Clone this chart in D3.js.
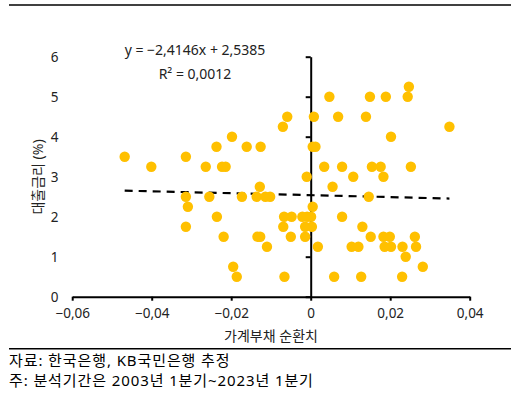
<!DOCTYPE html>
<html>
<head>
<meta charset="utf-8">
<script src="https://cdn.jsdelivr.net/npm/d3@7"></script>
<style>
body { margin: 0; background: #fff; }
text { font-family: "Noto Sans", "Noto Sans CJK KR", sans-serif; }
</style>
</head>
<body>
<div id="chart"></div>
<script>
// household debt gap (x) vs loan rate (y), one pair per quarter
var debtGap = [
  0.0247,
  0.0047, 0.0149, 0.0189, 0.0244,
  -0.0059, 0.0008, 0.0069, 0.0139,
  -0.0070, 0.0349,
  -0.0198, 0.0202,
  -0.0237, -0.0161, -0.0126, 0.0005, 0.0012,
  -0.0468, -0.0314,
  -0.0401, -0.0264, -0.0223, -0.0214, 0.0034, 0.0079, 0.0154, 0.0176, 0.0252,
  -0.0010, 0.0107, 0.0183,
  -0.0128, 0.0055,
  -0.0314, -0.0255, -0.0173, -0.0136, -0.0114, -0.0102, 0.0146,
  -0.0309, 0.0005,
  -0.0236, -0.0067, -0.0048, -0.0021, -0.0009, 0.0001, 0.0079,
  -0.0314, -0.0069, -0.0014, 0.0003, 0.0130,
  -0.0219, -0.0134, -0.0127, -0.0050, -0.0014, 0.0151, 0.0183, 0.0199, 0.0262,
  -0.0110, 0.0018, 0.0103, 0.0120, 0.0186, 0.0202, 0.0231, 0.0265,
  0.0239,
  -0.0195, 0.0282,
  -0.0186, -0.0066, 0.0059, 0.0127, 0.0230
];
var loanRate = [
  5.25,
  5, 5, 5, 5,
  4.5, 4.5, 4.5, 4.5,
  4.25, 4.25,
  4, 4,
  3.75, 3.75, 3.75, 3.75, 3.75,
  3.5, 3.5,
  3.25, 3.25, 3.25, 3.25, 3.25, 3.25, 3.25, 3.25, 3.25,
  3, 3, 3,
  2.75, 2.75,
  2.5, 2.5, 2.5, 2.5, 2.5, 2.5, 2.5,
  2.25, 2.25,
  2, 2, 2, 2, 2, 2, 2,
  1.75, 1.75, 1.75, 1.75, 1.75,
  1.5, 1.5, 1.5, 1.5, 1.5, 1.5, 1.5, 1.5, 1.5,
  1.25, 1.25, 1.25, 1.25, 1.25, 1.25, 1.25, 1.25,
  1,
  0.75, 0.75,
  0.5, 0.5, 0.5, 0.5, 0.5
];
var xTicks = [-0.06, -0.04, -0.02, 0, 0.02, 0.04];
var yTicks = [0, 1, 2, 3, 4, 5, 6];
var trendSlope = -2.4146, trendIntercept = 2.5385;
var trendRange = [-0.0468, 0.0349];
var eqText = "y = −2,4146x + 2,5385";
var r2Text = "R² = 0,0012";
var xTitle = "가계부채 순환치";
var yTitle = "대출금리 (%)";
var notes = ["자료: 한국은행, KB국민은행 추정", "주: 분석기간은 2003년 1분기~2023년 1분기"];

var width = 514, height = 403;
var svg = d3.select("#chart").append("svg").attr("width", width).attr("height", height);

var scaleX = d3.scaleLinear().domain([-0.06, 0.04]).range([72.2, 469.7]);
var scaleY = d3.scaleLinear().domain([0, 6]).range([296.7, 56.7]);

var locale = d3.formatLocale({decimal: ",", thousands: ".", grouping: [3], currency: ["", ""], minus: "−"});
var fmt = locale.format(".2f");

// frame lines
svg.append("line").attr("x1", 9).attr("x2", 511).attr("y1", 5).attr("y2", 5)
   .attr("stroke", "#000").attr("stroke-width", 1.5);
svg.append("line").attr("x1", 9).attr("x2", 511).attr("y1", 348.7).attr("y2", 348.7)
   .attr("stroke", "#000").attr("stroke-width", 1.5);

// x axis at y = 0
var xAxis = svg.append("g")
  .attr("transform", "translate(0," + scaleY(0) + ")")
  .call(d3.axisBottom(scaleX).tickValues(xTicks).tickSize(4).tickSizeOuter(0).tickPadding(8)
        .tickFormat(function(d) { return d === 0 ? "0" : fmt(d); }));
xAxis.selectAll("text").attr("font-size", 13.5).attr("fill", "#222")
     .style("font-family", "'Noto Sans', sans-serif");

// y axis at x = 0, labels sit at the far left
var yAxis = svg.append("g")
  .attr("transform", "translate(" + scaleX(0) + ",0)")
  .call(d3.axisLeft(scaleY).tickValues(yTicks).tickSize(5).tickSizeOuter(0).tickFormat(""));

svg.selectAll(".domain, .tick line").attr("stroke", "#000").attr("stroke-width", 2);

svg.selectAll(".ylab").data(yTicks).enter().append("text")
   .attr("class", "ylab")
   .attr("x", 54.5)
   .attr("y", function(d) { return scaleY(d); })
   .attr("dy", "0.36em")
   .attr("text-anchor", "middle")
   .attr("font-size", 13.5).attr("fill", "#222")
   .text(function(d) { return d; });

// trend line
svg.append("line")
   .attr("x1", scaleX(trendRange[0])).attr("y1", scaleY(trendSlope * trendRange[0] + trendIntercept))
   .attr("x2", scaleX(trendRange[1])).attr("y2", scaleY(trendSlope * trendRange[1] + trendIntercept))
   .attr("stroke", "#000").attr("stroke-width", 2.2).attr("stroke-dasharray", "8,6");

// points
svg.selectAll(".dot").data(debtGap).enter().append("circle")
   .attr("class", "dot")
   .attr("cx", function(d) { return scaleX(d); })
   .attr("cy", function(d, i) { return scaleY(loanRate[i]); })
   .attr("r", 5.2)
   .attr("fill", "#FFC000");

// equation
svg.append("text").attr("x", 195).attr("y", 50).attr("dy", "0.36em").attr("text-anchor", "middle")
   .attr("font-size", 14).attr("fill", "#222").text(eqText);
svg.append("text").attr("x", 195).attr("y", 74).attr("dy", "0.36em").attr("text-anchor", "middle")
   .attr("font-size", 14).attr("fill", "#222").text(r2Text);

// axis titles
svg.append("text").attr("x", 271).attr("y", 336).attr("dy", "0.36em").attr("text-anchor", "middle")
   .attr("font-size", 14).attr("fill", "#222").text(xTitle);
svg.append("text").attr("transform", "translate(38,177) rotate(-90)")
   .attr("dy", "0.36em").attr("text-anchor", "middle")
   .attr("font-size", 14).attr("fill", "#222").text(yTitle);

// notes
svg.selectAll(".note").data(notes).enter().append("text")
   .attr("class", "note")
   .attr("x", 9)
   .attr("y", function(d, i) { return 360.5 + i * 20; })
   .attr("dy", "0.36em")
   .attr("font-size", 15).attr("letter-spacing", 0.9).attr("fill", "#000")
   .text(function(d) { return d; });
</script>
</body>
</html>
